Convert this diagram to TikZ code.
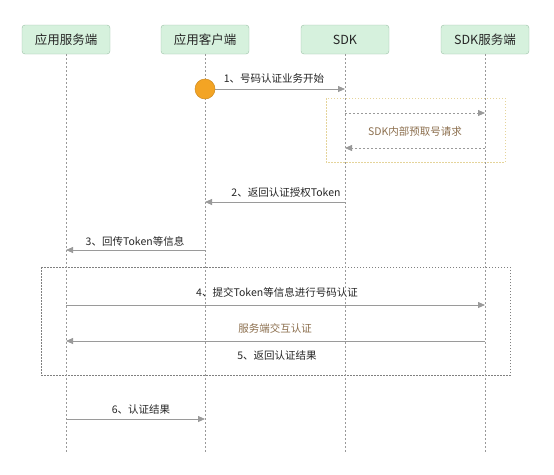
\documentclass[tikz,border=0pt]{standalone}
\usepackage{fontspec}
\setmainfont{Noto Sans CJK SC}
\usetikzlibrary{arrows.meta}
\definecolor{hdrfill}{HTML}{D6F1DD}
\definecolor{hdrdraw}{HTML}{9CBFA6}
\definecolor{arrowc}{HTML}{9A9A9A}
\definecolor{orangec}{HTML}{F3A424}
\definecolor{orangeb}{HTML}{E5D49A}
\definecolor{brownc}{HTML}{8C6F4E}
\tikzset{
  hdr/.style={draw=hdrdraw, fill=hdrfill, rounded corners=3pt, minimum width=88pt, minimum height=29pt, inner sep=0pt, font=\fontsize{12.5}{14}\selectfont, text=black!85},
  life/.style={draw=black!40, dash pattern=on 2pt off 2pt, line width=0.6pt},
  msg/.style={draw=arrowc, line width=0.8pt, -{Triangle[length=7pt,width=6pt]}},
  dmsg/.style={draw=arrowc, line width=0.8pt, dash pattern=on 2pt off 2pt, -{Triangle[length=7pt,width=6pt]}},
  lbl/.style={font=\fontsize{10.5}{12}\selectfont, text=black!85, inner sep=1pt},
  blbl/.style={font=\fontsize{10.5}{12}\selectfont, text=brownc, inner sep=1pt},
}
\begin{document}
\begin{tikzpicture}[x=1pt,y=-1pt]
\useasboundingbox (0,0) rectangle (554,474);
% group boxes
\draw[draw=orangeb, line width=0.8pt, dash pattern=on 1.5pt off 1.5pt] (326,98) rectangle (505,162);
\draw[draw=black!50, line width=0.7pt, dash pattern=on 1.5pt off 1.5pt] (41,267) rectangle (510,375);
% headers
\node[hdr] (h1) at (66,39.5) {应用服务端};
\node[hdr] (h2) at (205,39.5) {应用客户端};
\node[hdr] (h3) at (345,39.5) {SDK};
\node[hdr] (h4) at (485,39.5) {SDK服务端};
% lifeline ends
\coordinate (e1) at (66,452);
\coordinate (e2) at (205,452);
\coordinate (e3) at (345,452);
\coordinate (e4) at (485,452);
\draw[life] (h1.south) -- (e1);
\draw[life] (h2.south) -- (e2);
\draw[life] (h3.south) -- (e3);
\draw[life] (h4.south) -- (e4);
% message points
\coordinate (a1) at (205,89); \coordinate (b1) at (345,89);
\coordinate (a1s) at (345,113); \coordinate (b1s) at (485,113);
\coordinate (a1r) at (485,148); \coordinate (b1r) at (345,148);
\coordinate (a2) at (345,202); \coordinate (b2) at (205,202);
\coordinate (a3) at (205,250); \coordinate (b3) at (66,250);
\coordinate (a4) at (66,305); \coordinate (b4) at (485,305);
\coordinate (a5) at (485,341); \coordinate (b5) at (66,341);
\coordinate (a6) at (66,419); \coordinate (b6) at (205,419);
% messages
\draw[msg] (a1) -- (b1);
\node[circle, fill=orangec, draw=orangec!85!black, line width=0.5pt, minimum size=20pt, inner sep=0pt] (start) at (a1) {};
\node[lbl] (l1) at (274,79) {1、号码认证业务开始};
\draw[dmsg] (a1s) -- (b1s);
\node[blbl] (l1b) at (415,131) {SDK内部预取号请求};
\draw[dmsg] (a1r) -- (b1r);
\draw[msg] (a2) -- (b2);
\node[lbl] (l2) at (286,193) {2、返回认证授权Token};
\draw[msg] (a3) -- (b3);
\node[lbl] (l3) at (135,241) {3、回传Token等信息};
\draw[msg] (a4) -- (b4);
\node[lbl] (l4) at (277,292) {4、提交Token等信息进行号码认证};
\node[blbl] (l45) at (275,328) {服务端交互认证};
\draw[msg] (a5) -- (b5);
\node[lbl] (l5) at (277,355) {5、返回认证结果};
\draw[msg] (a6) -- (b6);
\node[lbl] (l6) at (141,409) {6、认证结果};
\end{tikzpicture}
\end{document}
